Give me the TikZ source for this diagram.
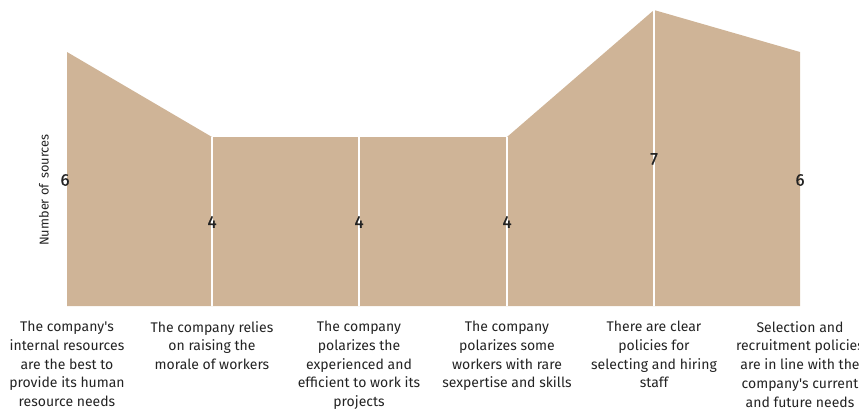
\documentclass[tikz,border=0pt]{standalone}
\usepackage{fontspec}
\setmainfont{Fira Sans}
\newfontfamily\valfont[FakeBold=0.6]{Fira Sans}
\definecolor{tan}{RGB}{207,180,151}
\definecolor{txt}{RGB}{35,35,35}
\begin{document}
\begin{tikzpicture}[x=1pt,y=-1pt,
  seg/.style={fill=tan,draw=none},
  sep/.style={draw=white,line width=2.2pt},
  val/.style={font=\valfont\fontsize{17}{19}\selectfont,text=txt,inner sep=0pt},
  cat/.style={font=\fontsize{14}{18.75}\selectfont,text=txt,align=center,anchor=north,inner sep=0pt}]
\useasboundingbox (0,0) rectangle (859,415);
\clip (0,0) rectangle (859,415);
% points
\coordinate (b1) at (67,306); \coordinate (t1) at (67,52);
\coordinate (b2) at (212,306); \coordinate (t2) at (212,137);
\coordinate (b3) at (359,306); \coordinate (t3) at (359,137);
\coordinate (b4) at (507,306); \coordinate (t4) at (507,137);
\coordinate (b5) at (654,306); \coordinate (t5) at (654,10);
\coordinate (b6) at (800,306); \coordinate (t6) at (800,52);
\fill[seg] (b1) -- (t1) -- (t2) -- (t3) -- (t4) -- (t5) -- (t6) -- (b6) -- cycle;
\draw[sep] (b2) -- (t2);
\draw[sep] (b3) -- (t3);
\draw[sep] (b4) -- (t4);
\draw[sep] (b5) -- (t5);
% values
\node[val] (v1) at (65,180) {6};
\node[val] (v2) at (212,222) {4};
\node[val] (v3) at (359,222) {4};
\node[val] (v4) at (507,222) {4};
\node[val] (v5) at (654,159) {7};
\node[val] (v6) at (800,180) {6};
% axis label
\node[font=\fontsize{12.8}{14}\selectfont,text=txt,rotate=90,inner sep=0pt] (ylab) at (44,190) {Number of\hspace{2pt} sources};
% categories
\node[cat] (c1) at (67,321) {The company\textquotesingle s\\internal resources\\are the best to\\provide its human\\resource needs};
\node[cat] (c2) at (212,321) {The company relies\\on raising the\\morale of workers};
\node[cat] (c3) at (359,321) {The company\\polarizes the\\experienced and\\efficient to work its\\projects};
\node[cat] (c4) at (507,321) {The company\\polarizes some\\workers with rare\\sexpertise and skills};
\node[cat] (c5) at (654,321) {There are clear\\policies for\\selecting and hiring\\staff};
\node[cat] (c6) at (800,321) {Selection and\\recruitment policies\\are in line with the\\company\textquotesingle s current\\and future needs};
\end{tikzpicture}
\end{document}
